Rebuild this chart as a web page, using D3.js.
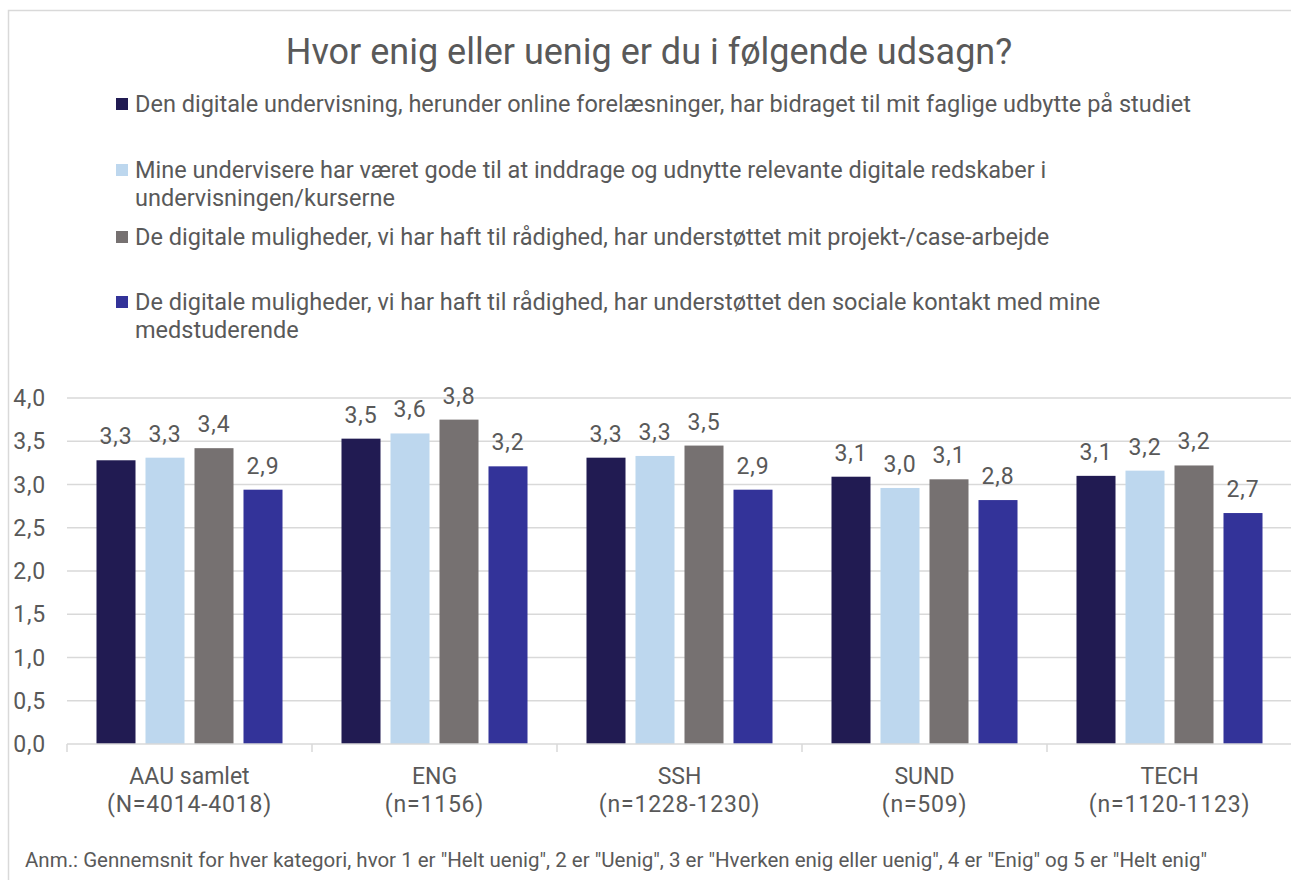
<!doctype html>
<html lang="en">
<head>
  <meta charset="utf-8">
  <script src="https://cdnjs.cloudflare.com/ajax/libs/d3/7.8.5/d3.min.js"></script>
  <style>
    html, body{margin:0px; padding:0px; background:#fff;}
    svg text{font-family:Roboto, sans-serif; fill:#595959;}
    .num{letter-spacing:0.8px;}
  </style>
</head>
<body>
<div id="view"></div>

<script>
// chart data
var categories = ["AAU samlet", "ENG", "SSH", "SUND", "TECH"];
var categorySub = ["(N=4014-4018)", "(n=1156)", "(n=1228-1230)", "(n=509)", "(n=1120-1123)"];

var seriesNames = [
  "Den digitale undervisning, herunder online forelæsninger, har bidraget til mit faglige udbytte på studiet",
  "Mine undervisere har været gode til at inddrage og udnytte relevante digitale redskaber i\nundervisningen/kurserne",
  "De digitale muligheder, vi har haft til rådighed, har understøttet mit projekt-/case-arbejde",
  "De digitale muligheder, vi har haft til rådighed, har understøttet den sociale kontakt med mine\nmedstuderende"
];

var undervisning = [3.28, 3.53, 3.31, 3.09, 3.10];
var undervisere  = [3.31, 3.59, 3.33, 2.96, 3.16];
var projekt      = [3.42, 3.75, 3.45, 3.06, 3.22];
var socialt      = [2.94, 3.21, 2.94, 2.82, 2.67];

var yTicks = [0, 0.5, 1, 1.5, 2, 2.5, 3, 3.5, 4];

var title = "Hvor enig eller uenig er du i følgende udsagn?";
var note = "Anm.: Gennemsnit for hver kategori, hvor 1 er \"Helt uenig\", 2 er \"Uenig\", 3 er \"Hverken enig eller uenig\", 4 er \"Enig\" og 5 er \"Helt enig\"";

var colors = ["#211b52", "#bdd7ee", "#767171", "#333399"];

var series = [undervisning, undervisere, projekt, socialt];

var W = 1291, H = 880;
var svg = d3.select('#view').append('svg')
    .attr('width', W)
    .attr('height', H);

svg.append('rect').attr('width', W).attr('height', H).attr('fill', '#fff');
// outer frame
svg.append('rect')
    .attr('x', 8.5).attr('y', 10.5)
    .attr('width', W + 20).attr('height', H + 20)
    .attr('fill', 'none').attr('stroke', '#d9d9d9').attr('stroke-width', 1.5);

// title
svg.append('text')
    .attr('x', 649).attr('y', 64)
    .attr('text-anchor', 'middle')
    .style('font-size', '36px')
    .text(title);

// legend
var legendY = [104, 170, 237, 302];
var legend = svg.append('g');
seriesNames.forEach(function(name, i){
  legend.append('rect')
      .attr('x', 116).attr('y', legendY[i] - 6)
      .attr('width', 12).attr('height', 12)
      .attr('fill', colors[i]);
  var t = legend.append('text')
      .attr('x', 135).attr('y', legendY[i] + 8)
      .style('font-size', '23.5px');
  name.split('\n').forEach(function(line, j){
    t.append('tspan').attr('x', 135).attr('dy', j === 0 ? 0 : 28).text(line);
  });
});

// scales
var x0 = d3.scaleBand().domain(categories).range([67, 1292]);
var x1 = d3.scaleBand().domain(d3.range(4)).range([0, x0.bandwidth()])
    .paddingInner(0.204).paddingOuter(0.602);
var y = d3.scaleLinear().domain([0, 4]).range([744, 398]);

// gridlines
svg.append('g').selectAll('line').data(yTicks.slice(1)).enter().append('line')
    .attr('x1', 67).attr('x2', 1292)
    .attr('y1', function(d){return y(d);})
    .attr('y2', function(d){return y(d);})
    .attr('stroke', '#d9d9d9').attr('stroke-width', 1.5);

// y axis labels
svg.append('g').selectAll('text').data(yTicks).enter().append('text')
    .attr('class', 'num')
    .attr('x', 46).attr('y', function(d){return y(d) + 8;})
    .attr('text-anchor', 'end')
    .style('font-size', '23px')
    .text(function(d){return d3.format('.1f')(d).replace('.', ',');});

// bars
var groups = svg.append('g').selectAll('g').data(categories).enter().append('g')
    .attr('transform', function(d){return 'translate(' + x0(d) + ',0)';});

groups.selectAll('rect')
    .data(function(d, ci){return series.map(function(s, si){return {s: si, v: s[ci]};});})
    .enter().append('rect')
    .attr('x', function(d){return x1(d.s);})
    .attr('width', x1.bandwidth())
    .attr('y', function(d){return y(d.v);})
    .attr('height', function(d){return y(0) - y(d.v);})
    .attr('fill', function(d){return colors[d.s];});

groups.selectAll('text.val')
    .data(function(d, ci){return series.map(function(s, si){return {s: si, v: s[ci]};});})
    .enter().append('text')
    .attr('class', 'val num')
    .attr('x', function(d){return x1(d.s) + x1.bandwidth() / 2;})
    .attr('y', function(d){return y(d.v) - 16;})
    .attr('text-anchor', 'middle')
    .style('font-size', '23px')
    .text(function(d){return d3.format('.1f')(d.v).replace('.', ',');});

// x axis line and ticks
svg.append('line')
    .attr('x1', 67).attr('x2', 1292)
    .attr('y1', y(0)).attr('y2', y(0))
    .attr('stroke', '#d9d9d9').attr('stroke-width', 1.5);
svg.append('g').selectAll('line').data(d3.range(categories.length)).enter().append('line')
    .attr('x1', function(i){return x0(categories[i]);})
    .attr('x2', function(i){return x0(categories[i]);})
    .attr('y1', y(0)).attr('y2', y(0) + 8)
    .attr('stroke', '#d9d9d9').attr('stroke-width', 1.5);

// category labels
var catLab = svg.append('g').selectAll('text').data(categories).enter().append('text')
    .attr('text-anchor', 'middle')
    .style('font-size', '23px');
catLab.append('tspan')
    .attr('x', function(d){return x0(d) + x0.bandwidth() / 2;})
    .attr('y', 784)
    .text(function(d){return d;});
catLab.append('tspan')
    .attr('class', 'num')
    .attr('x', function(d){return x0(d) + x0.bandwidth() / 2;})
    .attr('y', 812)
    .text(function(d, i){return categorySub[i];});

// note
svg.append('text')
    .attr('x', 25).attr('y', 867)
    .style('font-size', '20.5px')
    .text(note);
</script>
</body>
</html>
